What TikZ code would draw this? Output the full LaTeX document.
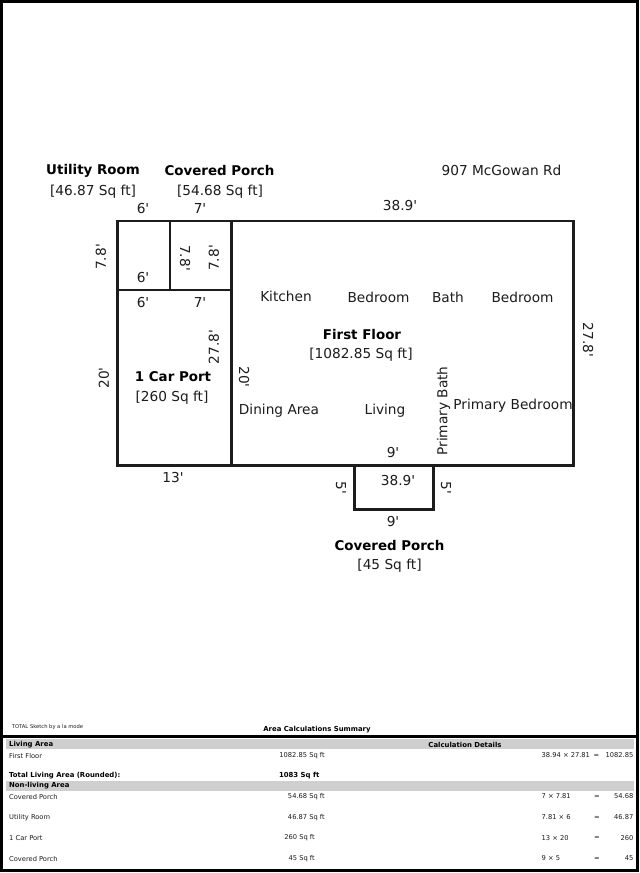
\documentclass[tikz,border=0pt]{standalone}
\usepackage{fontspec}
\setmainfont{DejaVu Sans}[Ligatures=TeXOff]
\definecolor{ink}{HTML}{1C1C1C}
\definecolor{band}{HTML}{CFCFCF}
\tikzset{
 wall/.style={draw=ink,line width=2.6pt},
 lab/.style={inner sep=0pt,text=ink,font=\fontsize{13.7}{15}\selectfont},
 dimv/.style={lab,rotate=90},
 dimr/.style={lab,rotate=-90},
 head/.style={inner sep=0pt,text=black,font=\fontsize{13.4}{15}\selectfont\bfseries},
 tb/.style={inner sep=0pt,text=ink,font=\fontsize{6.7}{8}\selectfont},
 tbb/.style={inner sep=0pt,text=black,font=\fontsize{6.9}{8}\selectfont\bfseries},
}
\begin{document}
\begin{tikzpicture}[x=1pt,y=-1pt]
\useasboundingbox (0,0) rectangle (640,873);
\fill[white] (0,0) rectangle (640,873);
% frame
\draw[black,line width=3pt] (1.5,1.5) rectangle (637.5,870.5);
\draw[black,line width=3pt] (1.5,736.5) -- (637.5,736.5);
\fill[band] (6,739) rectangle (634,749);
\fill[band] (6,781) rectangle (634,790.5);
% walls
\draw[wall] (117.3,221) rectangle (573.5,465.5);
\draw[wall] (231.3,221) -- (231.3,465.5);
\draw[wall] (117.3,290) -- (231.3,290);
\draw[wall] (170,221) -- (170,290);
\draw[wall] (354.3,465.5) -- (354.3,509.3) -- (433.7,509.3) -- (433.7,465.5);
% headings
\node[head] (h1) at (93,170.5) {Utility Room};
\node[lab]  (h1b) at (93,192) {[46.87 Sq ft]};
\node[head] (h2) at (219.5,171) {Covered Porch};
\node[lab]  (h2b) at (220,192) {[54.68 Sq ft]};
\node[lab]  (addr) at (501.5,170) {907 McGowan Rd};
\node[head] (h3) at (362,334) {First Floor};
\node[lab]  (h3b) at (361,355) {[1082.85 Sq ft]};
\node[head] (h4) at (173,376.5) {1 Car Port};
\node[lab]  (h4b) at (172,398) {[260 Sq ft]};
\node[head] (h5) at (389.5,545) {Covered Porch};
\node[lab]  (h5b) at (389.5,566) {[45 Sq ft]};
% dims
\node[lab] (d1) at (143,208.5) {6'};
\node[lab] (d2) at (200,208.5) {7'};
\node[lab] (d3) at (400,205.5) {38.9'};
\node[dimv] (d4) at (101,257) {7.8'};
\node[dimr] (d5) at (185,258) {7.8'};
\node[dimv] (d6) at (214,258) {7.8'};
\node[lab] (d7) at (143,277.5) {6'};
\node[lab] (d8) at (143,302.5) {6'};
\node[lab] (d9) at (200,302.5) {7'};
\node[dimv] (d10) at (214,347) {27.8'};
\node[dimv] (d11) at (104,378) {20'};
\node[dimr] (d12) at (244,377) {20'};
\node[dimr] (d13) at (588,340) {27.8'};
\node[lab] (d14) at (173,478) {13'};
\node[lab] (d15) at (393,452.5) {9'};
\node[lab] (d16) at (398,480.5) {38.9'};
\node[lab] (d17) at (393,521.5) {9'};
\node[dimr] (d18) at (341,488) {5'};
\node[dimr] (d19) at (446,488) {5'};
% rooms
\node[lab] (r1) at (286,296) {Kitchen};
\node[lab] (r2) at (378.5,297) {Bedroom};
\node[lab] (r3) at (448,297) {Bath};
\node[lab] (r4) at (522.5,297) {Bedroom};
\node[lab] (r5) at (279,411) {Dining Area};
\node[lab] (r6) at (385,411) {Living};
\node[dimv] (r7) at (443.5,411) {Primary Bath};
\node[lab] (r8) at (513,406) {Primary Bedroom};
% table
\node[inner sep=0pt,text=ink,font=\fontsize{5.2}{6}\selectfont] (t0) at (47.5,727.5) {TOTAL Sketch by a la mode};
\node[tbb] (t1) at (317,730) {Area Calculations Summary};
\node[tbb,anchor=west] (t2) at (9,744.5) {Living Area};
\node[tbb] (t3) at (465,744.5) {Calculation Details};
\node[tb,anchor=west] (t4) at (9,755.5) {First Floor};
\node[tb,anchor=east] (t5) at (325,755.5) {1082.85 Sq ft};
\node[tb,anchor=west] (t6) at (541.5,755.5) {38.94 × 27.81};
\node[tb] (t6e) at (596.5,755.5) {=};
\node[tb,anchor=east] (t6v) at (633.5,755.5) {1082.85};
\node[tbb,anchor=west] (t7) at (9,776) {Total Living Area (Rounded):};
\node[tbb,anchor=east] (t8) at (319.5,776) {1083 Sq ft};
\node[tbb,anchor=west] (t9) at (9,786) {Non-living Area};
\foreach \n/\yy/\na/\ar/\rx/\calc/\res in {a/796.5/Covered Porch/54.68 Sq ft/325/7 × 7.81/54.68, b/817.5/Utility Room/46.87 Sq ft/325/7.81 × 6/46.87, c/838/1 Car Port/260 Sq ft/315/13 × 20/260, d/858.5/Covered Porch/45 Sq ft/315/9 × 5/45}{
 \node[tb,anchor=west] (n\n) at (9,\yy) {\na};
 \node[tb,anchor=east] (s\n) at (\rx,\yy) {\ar};
 \node[tb,anchor=west] (c\n) at (541.5,\yy) {\calc};
 \node[tb] (e\n) at (597,\yy) {=};
 \node[tb,anchor=east] (v\n) at (633.5,\yy) {\res};
}
\end{tikzpicture}
\end{document}
